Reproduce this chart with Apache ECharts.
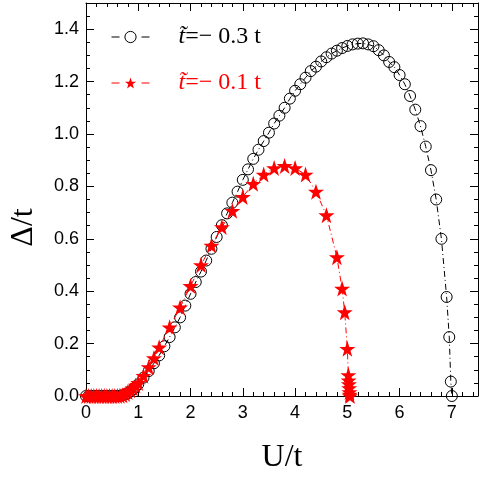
<!DOCTYPE html>
<html>
<head>
<meta charset="utf-8">
<script src="https://cdn.jsdelivr.net/npm/echarts@6/dist/echarts.min.js"></script>
<style>
  html, body { margin: 0; padding: 0; background: #fff; }
  #main { width: 481px; height: 481px; }
</style>
</head>
<body>
<div id="main"></div>
<script>
// t~ = -0.3 t  (open circles)
var blackU = [0, 0.05, 0.1, 0.15, 0.2, 0.25, 0.3, 0.35, 0.4, 0.45, 0.5, 0.55, 0.6, 0.65, 0.7, 0.75, 0.8, 0.85, 0.9, 0.95,
  1.0, 1.1, 1.2, 1.3, 1.4, 1.5, 1.6, 1.7, 1.8, 1.9, 2.0, 2.1, 2.2, 2.3, 2.4, 2.5, 2.6, 2.7, 2.8, 2.9,
  3.0, 3.1, 3.2, 3.3, 3.4, 3.5, 3.6, 3.7, 3.8, 3.9, 4.0, 4.1, 4.2, 4.3, 4.4, 4.5, 4.6, 4.7, 4.8, 4.9,
  5.0, 5.1, 5.2, 5.3, 5.4, 5.5, 5.6, 5.7, 5.8, 5.9, 6.0, 6.1, 6.2, 6.3, 6.4, 6.5, 6.6, 6.7, 6.8, 6.9,
  6.95, 6.98, 7.0];
var blackD = [0, 0, 0, 0, 0, 0, 0, 0, 0, 0, 0, 0, 0, 0.001, 0.003, 0.006, 0.01, 0.017, 0.025, 0.035,
  0.045, 0.07, 0.095, 0.125, 0.155, 0.19, 0.225, 0.262, 0.3, 0.345, 0.39, 0.435, 0.475, 0.517, 0.562, 0.607, 0.652, 0.697, 0.738, 0.78,
  0.825, 0.865, 0.905, 0.94, 0.973, 1.005, 1.04, 1.07, 1.1, 1.135, 1.165, 1.19, 1.215, 1.24, 1.257, 1.277, 1.293, 1.307, 1.318, 1.328,
  1.336, 1.342, 1.345, 1.346, 1.342, 1.335, 1.32, 1.3, 1.275, 1.255, 1.225, 1.19, 1.145, 1.093, 1.03, 0.952, 0.862, 0.75, 0.6, 0.378,
  0.225, 0.055, 0];

// t~ = -0.1 t  (red stars)
var redU = [0, 0.05, 0.1, 0.15, 0.2, 0.25, 0.3, 0.35, 0.4, 0.45, 0.5, 0.55, 0.6, 0.65, 0.7, 0.75, 0.8, 0.85, 0.9, 0.95,
  1.0, 1.1, 1.2, 1.3, 1.4, 1.6, 1.8, 2.0, 2.2, 2.4, 2.6, 2.8, 3.0, 3.2, 3.4, 3.6, 3.8, 4.0, 4.2, 4.4,
  4.6, 4.8, 4.9, 4.95, 5.0, 5.02, 5.025, 5.03, 5.035, 5.04, 5.045, 5.05];
var redD = [0, 0, 0, 0, 0, 0, 0, 0, 0, 0, 0, 0, 0, 0.001, 0.003, 0.008, 0.015, 0.022, 0.03, 0.04,
  0.05, 0.077, 0.11, 0.145, 0.186, 0.262, 0.338, 0.42, 0.5, 0.574, 0.645, 0.707, 0.76, 0.81, 0.845, 0.87, 0.878, 0.87, 0.845, 0.78,
  0.69, 0.53, 0.41, 0.32, 0.18, 0.08, 0.06, 0.045, 0.03, 0.015, 0.005, 0];

var xTicks = [0, 1, 2, 3, 4, 5, 6, 7];
var yTicks = [0, 0.2, 0.4, 0.6, 0.8, 1.0, 1.2, 1.4];

var starPath = 'path://M50,0 L61.8,35.1 L98.1,35.1 L68.8,56.8 L79.4,91.6 L50,70.2 L20.6,91.6 L31.2,56.8 L1.9,35.1 L38.2,35.1 Z';

function zip(a, b) {
  return a.map(function (v, i) { return [v, b[i]]; });
}

function frameAxis(extra) {
  return Object.assign({
    type: 'value',
    axisLine: { show: true, onZero: false, lineStyle: { color: '#000', width: 1 } },
    axisTick: { show: true, inside: true, length: 8, lineStyle: { color: '#000', width: 1 } },
    splitLine: { show: false }
  }, extra);
}

var myChart = echarts.init(document.getElementById('main'));

var option = {
  backgroundColor: '#fff',
  animation: false,
  grid: { left: 86, right: 3, top: 3, bottom: 85 },
  legend: {
    orient: 'vertical',
    left: 106,
    top: 20,
    itemWidth: 38,
    itemHeight: 14,
    itemGap: 22,
    itemStyle: { borderWidth: 1 },
    lineStyle: { width: 1, type: [8, 22] },
    data: [
      { name: 'black', textStyle: { color: '#000' } },
      { name: 'red', textStyle: { color: '#f00' } }
    ],
    formatter: function (name) {
      return name === 'black' ? '{i|t\u0303}{n|=\u2212 0.3 t}' : '{i|t\u0303}{n|=\u2212 0.1 t}';
    },
    textStyle: {
      padding: [0, 0, 0, 24],
      rich: {
        i: { fontFamily: 'Liberation Serif', fontStyle: 'italic', fontSize: 24 },
        n: { fontFamily: 'Liberation Serif', fontSize: 24 }
      }
    }
  },
  xAxis: [
    frameAxis({
      min: 0, max: 7.5, interval: 1,
      name: 'U/t', nameLocation: 'middle', nameGap: 46,
      nameTextStyle: { fontFamily: 'Liberation Serif', fontSize: 32, color: '#000' },
      minorTick: { show: true, splitNumber: 5, length: 4, lineStyle: { color: '#000', width: 1 } },
      axisLabel: {
        color: '#000', fontFamily: 'Liberation Sans', fontSize: 18, margin: 8,
        formatter: function (v) { return xTicks.indexOf(v) >= 0 ? String(v) : ''; }
      }
    }),
    frameAxis({
      min: 0, max: 7.5, interval: 1, position: 'top',
      minorTick: { show: true, splitNumber: 5, length: 4, lineStyle: { color: '#000', width: 1 } },
      axisLabel: { show: false }
    })
  ],
  yAxis: [
    frameAxis({
      min: 0, max: 1.5, interval: 0.2,
      name: '\u0394/t', nameLocation: 'middle', nameGap: 46,
      nameTextStyle: { fontFamily: 'Liberation Serif', fontSize: 32, color: '#000', padding: [0, 56, 0, 0] },
      minorTick: { show: true, splitNumber: 4, length: 4, lineStyle: { color: '#000', width: 1 } },
      axisLabel: {
        color: '#000', fontFamily: 'Liberation Sans', fontSize: 18, margin: 7,
        formatter: function (v) {
          var r = Math.round(v * 10) / 10;
          return yTicks.indexOf(r) >= 0 && Math.abs(r - v) < 1e-6 ? r.toFixed(1) : '';
        }
      }
    }),
    frameAxis({
      min: 0, max: 1.5, interval: 0.2, position: 'right',
      minorTick: { show: true, splitNumber: 4, length: 4, lineStyle: { color: '#000', width: 1 } },
      axisLabel: { show: false }
    })
  ],
  series: [
    {
      name: 'black',
      type: 'line',
      data: zip(blackU, blackD),
      symbol: 'circle',
      symbolSize: 11,
      showAllSymbol: true,
      lineStyle: { color: '#000', width: 1, type: [6, 3, 1, 3] },
      itemStyle: { color: 'rgba(0,0,0,0)', borderColor: '#000', borderWidth: 1 },
      z: 2
    },
    {
      name: 'red',
      type: 'line',
      data: zip(redU, redD),
      symbol: starPath,
      symbolSize: 16,
      showAllSymbol: true,
      lineStyle: { color: '#f00', width: 1, type: [6, 3, 1, 3] },
      itemStyle: { color: '#f00', borderWidth: 0 },
      z: 3
    }
  ]
};
myChart.setOption(option);

window.addEventListener('resize', function () {
  myChart.resize();
});
</script>
</body>
</html>
